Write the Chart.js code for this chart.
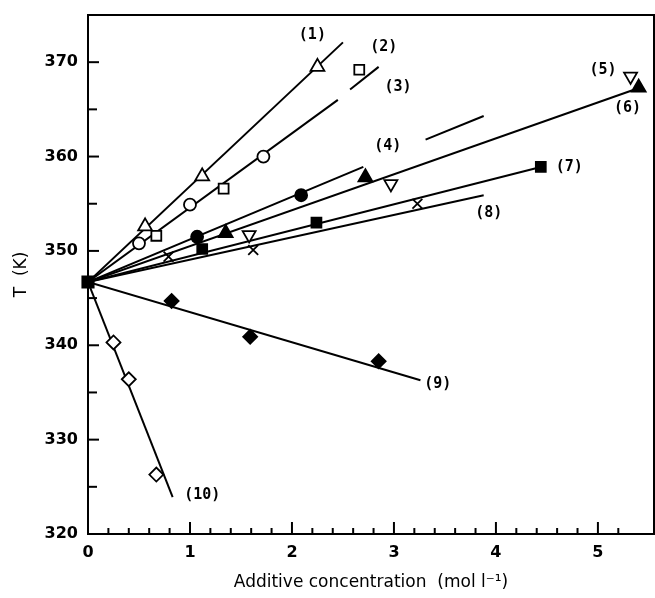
<!DOCTYPE html>
<html>
<head>
<meta charset="utf-8">
<script src="https://cdn.jsdelivr.net/npm/chart.js@4.4.0/dist/chart.umd.min.js"></script>
<style>
html, body { margin: 0; padding: 0; background: #fff; }
#wrap { width: 655px; height: 598px; }
</style>
</head>
<body>
<div id="wrap"><canvas id="tempChart"></canvas></div>
<script>
// measured points, additive concentration (mol/l) vs T (K)
const pureX = [0], pureY = [346.7];
const s1x = [0.56, 1.12, 2.25], s1y = [352.6, 357.9, 369.5];
const s2x = [0.50, 1.00, 1.72], s2y = [350.8, 354.9, 360.0];
const s3x = [0.67, 1.33, 2.66], s3y = [351.6, 356.6, 369.2];
const s4x = [1.07, 2.09], s4y = [351.5, 355.9];
const s5x = [1.58, 2.97, 5.32], s5y = [351.7, 357.1, 368.5];
const s6x = [1.35, 2.72, 5.40], s6y = [351.9, 357.8, 367.3];
const s7x = [1.12, 2.24, 4.44], s7y = [350.2, 353.0, 358.9];
const s8x = [0.79, 1.62, 3.23], s8y = [349.4, 350.1, 355.0];
const s9x = [0.82, 1.59, 2.85], s9y = [344.7, 340.9, 338.3];
const s10x = [0.25, 0.40, 0.67], s10y = [340.3, 336.4, 326.3];

// fitted lines (start, end)
const fitX = [[0, 2.50], [0, 2.45], [2.57, 2.85], [0, 2.70], [3.31, 3.88],
              [0, 5.36], [0, 4.44], [0, 3.88], [0, 3.26], [0, 0.83]];
const fitY = [[346.7, 372.1], [346.7, 366.0], [367.1, 369.5], [346.7, 358.9], [361.8, 364.3],
              [346.7, 367.1], [346.7, 358.9], [346.7, 355.9], [346.7, 336.3], [346.7, 323.9]];

// curve labels
const curveLabels = ['(1)', '(2)', '(3)', '(4)', '(5)', '(6)', '(7)', '(8)', '(9)', '(10)'];
const labelX = [2.20, 2.90, 3.04, 2.94, 5.05, 5.29, 4.72, 3.93, 3.43, 1.12];
const labelY = [372.9, 371.6, 367.4, 361.1, 369.2, 365.1, 358.9, 354.0, 335.9, 324.1];

const pts = (xs, ys) => xs.map((x, i) => ({x: x, y: ys[i]}));

function marker(xs, ys, style, filled, radius, rot) {
  return {
    data: pts(xs, ys),
    showLine: false,
    pointStyle: style,
    pointRadius: radius,
    pointRotation: rot || 0,
    backgroundColor: filled ? '#000' : '#fff',
    borderColor: '#000',
    borderWidth: 1.8
  };
}

const datasets = [
  Object.assign(marker(pureX, pureY, 'rect', true, 8), {clip: false}),
  marker(s1x, s1y, 'triangle', false, 8),
  marker(s2x, s2y, 'circle', false, 6),
  marker(s3x, s3y, 'rect', false, 7),
  marker(s4x, s4y, 'circle', true, 6),
  marker(s5x, s5y, 'triangle', false, 7.5, 180),
  marker(s6x, s6y, 'triangle', true, 8),
  marker(s7x, s7y, 'rect', true, 7),
  marker(s8x, s8y, 'crossRot', false, 7),
  marker(s9x, s9y, 'rectRot', true, 7),
  marker(s10x, s10y, 'rectRot', false, 7)
];
fitX.forEach((xs, i) => {
  datasets.push({
    data: pts(xs, fitY[i]),
    showLine: true,
    pointRadius: 0,
    borderColor: '#000',
    borderWidth: 2
  });
});

const frameTicks = {
  id: 'frameTicks',
  afterDraw(chart) {
    const {ctx, chartArea: a, scales: {x, y}} = chart;
    ctx.save();
    ctx.strokeStyle = '#000';
    ctx.lineWidth = 2;
    ctx.strokeRect(a.left, a.top, a.right - a.left, a.bottom - a.top);
    x.ticks.forEach(t => {
      const v = t.value;
      if (Math.abs(v * 5 - Math.round(v * 5)) > 1e-6) return;
      const major = Math.abs(v - Math.round(v)) < 1e-6;
      const px = x.getPixelForValue(v);
      ctx.beginPath();
      ctx.moveTo(px, a.bottom);
      ctx.lineTo(px, a.bottom - (major ? 12 : 6));
      ctx.stroke();
    });
    y.ticks.forEach(t => {
      const v = t.value;
      if (v % 5 !== 0) return;
      const py = y.getPixelForValue(v);
      ctx.beginPath();
      ctx.moveTo(a.left, py);
      ctx.lineTo(a.left + (v % 10 === 0 ? 11 : 9), py);
      ctx.stroke();
    });
    ctx.fillStyle = '#000';
    ctx.font = 'bold 15px "DejaVu Sans Mono"';
    ctx.textAlign = 'center';
    ctx.textBaseline = 'middle';
    curveLabels.forEach((s, i) => {
      ctx.fillText(s, x.getPixelForValue(labelX[i]), y.getPixelForValue(labelY[i]));
    });
    ctx.restore();
  }
};

new Chart(document.getElementById('tempChart'), {
  type: 'scatter',
  data: {datasets: datasets},
  options: {
    responsive: true,
    maintainAspectRatio: false,
    animation: false,
    layout: {autoPadding: false, padding: {left: 0, top: 15, right: 1, bottom: 0}},
    plugins: {legend: {display: false}, tooltip: {enabled: false}},
    scales: {
      x: {
        type: 'linear',
        min: 0,
        max: 5.55,
        grid: {display: false, drawTicks: false},
        border: {display: false},
        ticks: {
          stepSize: 0.2,
          autoSkip: false,
          maxRotation: 0,
          padding: 0,
          color: '#000',
          font: {family: 'DejaVu Sans', size: 16, weight: 'bold', lineHeight: 2.3},
          callback: v => Math.abs(v - Math.round(v)) < 1e-6 ? String(Math.round(v)) : ''
        },
        title: {
          display: true,
          text: 'Additive concentration  (mol l\u207B\u00B9)',
          color: '#000',
          font: {family: 'DejaVu Sans', size: 17},
          padding: {top: 0, bottom: 5}
        },
        afterFit: s => {
          s.height = 64;
        }
      },
      y: {
        type: 'linear',
        min: 320,
        max: 375,
        grid: {display: false, drawTicks: false},
        border: {display: false},
        ticks: {
          stepSize: 5,
          autoSkip: false,
          padding: 10,
          color: '#000',
          font: {family: 'DejaVu Sans', size: 16, weight: 'bold'},
          callback: v => v % 10 === 0 ? String(v) : ''
        },
        title: {
          display: true,
          text: 'T  (K)',
          color: '#000',
          font: {family: 'DejaVu Sans', size: 17},
          padding: {top: 11, bottom: 0}
        },
        afterFit: s => {
          s.width = 88;
          s.paddingTop = 0;
          s.paddingBottom = 0;
        }
      }
    }
  },
  plugins: [frameTicks]
});
</script>
</body>
</html>
